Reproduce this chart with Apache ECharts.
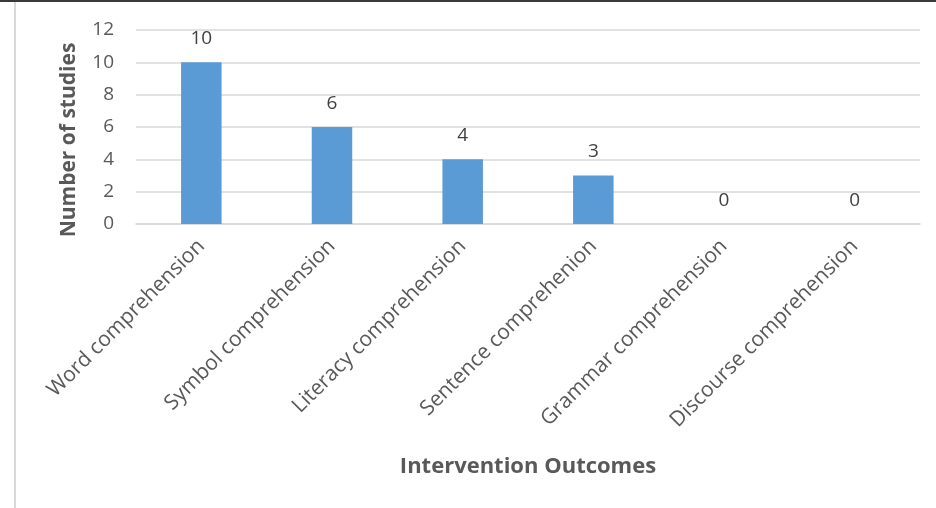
<!DOCTYPE html>
<html lang="en">
<head>
    <meta charset="UTF-8">
    <title>Intervention Outcomes</title>
    <script src="https://cdn.jsdelivr.net/npm/echarts/dist/echarts.min.js"></script>
    <style>
        body {
            margin: 0;
            padding: 0;
            background-color: #ffffff;
        }
        .frame {
            position: absolute;
            left: 0;
            top: 0;
            width: 936px;
            height: 508px;
            border-top: 2px solid #3a3a3a;
            box-sizing: border-box;
        }
        .side {
            position: absolute;
            left: 14px;
            top: 2px;
            width: 2px;
            height: 506px;
            background: #d9d9d9;
        }
        #chart {
            position: absolute;
            left: 0;
            top: 0;
            width: 936px;
            height: 508px;
        }
    </style>
</head>
<body>
<div class="frame"></div>
<div class="side"></div>
<div id="chart"></div>

<script>
    // 数据
    const categories = [
        "Word comprehension",
        "Symbol comprehension",
        "Literacy comprehension",
        "Sentence comprehenion",
        "Grammar comprehension",
        "Discourse comprehension"
    ];
    const studyCounts = [10, 6, 4, 3, 0, 0];

    const chart = echarts.init(document.getElementById("chart"));
    const font = "'Open Sans', 'Noto Sans', sans-serif";

    chart.setOption({
        animation: false,
        textStyle: { fontFamily: font },
        grid: { left: 136, right: 16, top: 30, bottom: 284 },
        xAxis: {
            type: "category",
            data: categories,
            name: "Intervention Outcomes",
            nameLocation: "middle",
            nameGap: 232,
            nameTextStyle: { fontSize: 22, fontWeight: "bold", color: "#595959", fontFamily: font },
            axisLine: { lineStyle: { color: "#d9d9d9", width: 1.5 } },
            axisTick: { show: false },
            axisLabel: { rotate: 45, fontSize: 21, color: "#595959", margin: 19, interval: 0 }
        },
        yAxis: {
            type: "value",
            min: 0,
            max: 12,
            interval: 2,
            name: "Number of studies",
            nameLocation: "middle",
            nameGap: 56,
            nameRotate: 90,
            nameTextStyle: { fontSize: 21, fontWeight: "bold", color: "#595959", fontFamily: font, padding: [0, 26, 0, 0] },
            axisLine: { show: false },
            axisTick: { show: false },
            axisLabel: { fontSize: 19, color: "#595959", margin: 22 },
            splitLine: { lineStyle: { color: "#d9d9d9", width: 1.5 } }
        },
        series: [
            {
                type: "bar",
                data: studyCounts,
                barWidth: "31%",
                itemStyle: { color: "#5b9bd5" },
                label: {
                    show: true,
                    position: "top",
                    distance: 14,
                    fontSize: 19,
                    color: "#404040"
                }
            }
        ]
    });
</script>
</body>
</html>
